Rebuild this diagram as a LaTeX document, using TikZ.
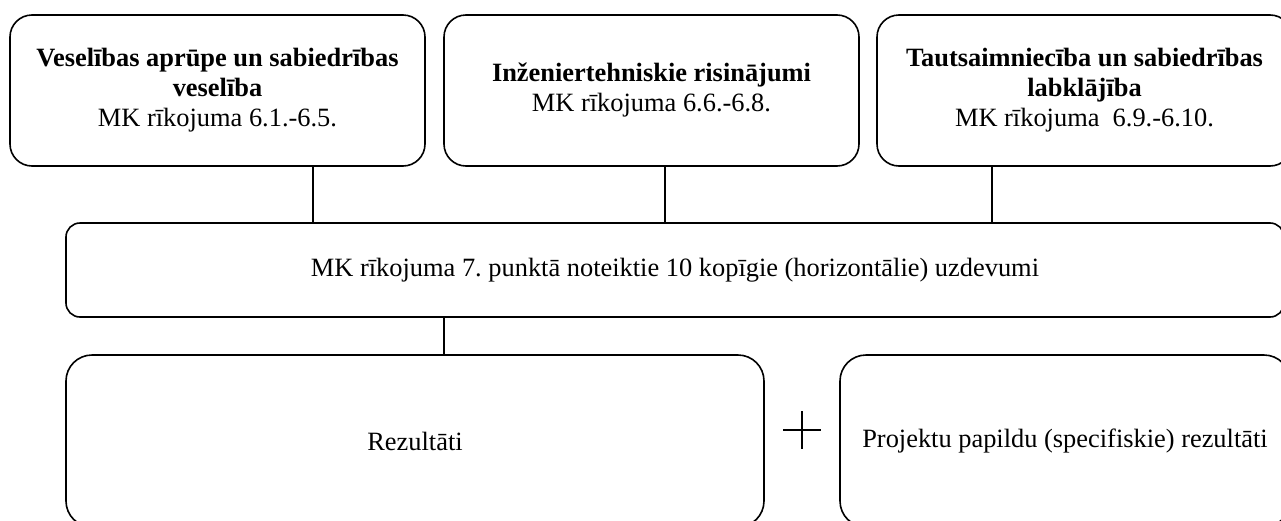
\documentclass[tikz,border=0pt]{standalone}
\usepackage{fontspec}
\setmainfont{Liberation Serif}
\frenchspacing
\begin{document}
\begin{tikzpicture}[x=0.5pt,y=-0.5pt,
  box/.style={draw=black,line width=0.8pt,align=center,inner sep=0pt,
    font=\fontsize{13.2pt}{15pt}\selectfont},
  topbox/.style={box,rounded corners=11pt,minimum width=207.5pt,minimum height=75.5pt},
  midbox/.style={box,rounded corners=7pt,minimum width=609pt,minimum height=47pt},
  botbox/.style={box,rounded corners=13pt,minimum height=86pt},
  link/.style={draw=black,line width=0.8pt}]
\useasboundingbox (0,0) rectangle (1281,520);
\clip (0,0) rectangle (1281,520);
\fill[white] (0,0) rectangle (1281,520);
\node[topbox] (b1) at (217.5,90.5) {\textbf{Veselības aprūpe un sabiedrības}\\\textbf{veselība}\\MK rīkojuma 6.1.-6.5.};
\node[topbox] (b2) at (651.5,90.5) {\textbf{Inženiertehniskie risinājumi}\\MK rīkojuma 6.6.-6.8.};
\node[topbox] (b3) at (1084.5,90.5) {\textbf{Tautsaimniecība un sabiedrības}\\\textbf{labklājība}\\MK rīkojuma~~6.9.-6.10.};
\node[midbox] (mid) at (675,270) {MK rīkojuma 7. punktā noteiktie 10 kopīgie (horizontālie) uzdevumi};
\node[botbox,minimum width=349pt] (rez) at (415,441) {Rezultāti};
\node[botbox,minimum width=225pt] (proj) at (1065,441) {Projektu papildu (specifiskie) rezultāti};
\coordinate (c1) at (313,0);
\coordinate (c2) at (665,0);
\coordinate (c3) at (992,0);
\coordinate (c4) at (444,0);
\coordinate (plus) at (802,430);
\draw[link] (b1.south -| c1) -- (mid.north -| c1);
\draw[link] (b2.south -| c2) -- (mid.north -| c2);
\draw[link] (b3.south -| c3) -- (mid.north -| c3);
\draw[link] (mid.south -| c4) -- (rez.north -| c4);
\draw[line width=0.7pt] ([xshift=-9.5pt]plus) -- ([xshift=9.5pt]plus);
\draw[line width=0.7pt] ([yshift=9.5pt]plus) -- ([yshift=-9.5pt]plus);
\end{tikzpicture}
\end{document}
